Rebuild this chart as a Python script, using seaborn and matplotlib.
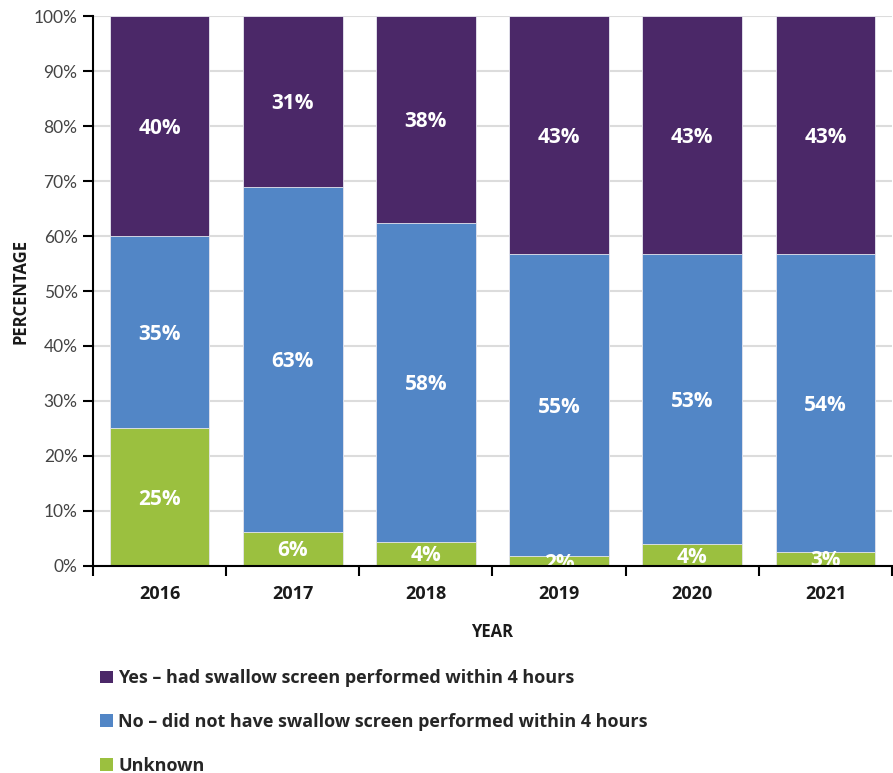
import numpy as np
import pandas as pd
import matplotlib
matplotlib.use('Agg')
import matplotlib.pyplot as plt
import seaborn as sns
from matplotlib.patches import Patch
from matplotlib.ticker import FuncFormatter, FixedLocator

# Datos (porcentajes)
years = ['2016', '2017', '2018', '2019', '2020', '2021']
unknown = [25.0, 6.2, 4.4, 1.8, 4.0, 2.6]
no_screen = [35.0, 62.7, 58.0, 54.9, 52.7, 54.1]
yes_screen = [40.0, 31.1, 37.6, 43.3, 43.3, 43.3]
unknown_lbl = [25, 6, 4, 2, 4, 3]
no_lbl = [35, 63, 58, 55, 53, 54]
yes_lbl = [40, 31, 38, 43, 43, 43]

series_names = ['Yes \u2013 had swallow screen performed within 4 hours',
                'No \u2013 did not have swallow screen performed within 4 hours',
                'Unknown']
colors = ['#4b2868', '#5286c6', '#9bc03f']

sns.set_theme(style='white')
plt.rcParams['font.family'] = ['Lato', 'DejaVu Sans']
bold_font = ['Open Sans', 'DejaVu Sans']

df = pd.DataFrame({'year': years, 'unknown': unknown, 'no': no_screen, 'yes': yes_screen})
df['c1'] = df['unknown']
df['c2'] = df['unknown'] + df['no']
df['c3'] = df['c2'] + df['yes']

fig = plt.figure(figsize=(8.93, 7.73), dpi=100)
ax = fig.add_axes([0.104, 0.268, 0.895, 0.711])

# barras apiladas: se dibuja el total y se superponen los acumulados
for col, color in zip(['c3', 'c2', 'c1'], colors):
    sns.barplot(data=df, x='year', y=col, color=color, width=0.75,
                saturation=1, ax=ax, zorder=3, edgecolor='#e8e8f0', linewidth=0.6)

# etiquetas centradas en cada segmento
for i in range(len(years)):
    segs = [(0, df['c1'][i], unknown_lbl[i]),
            (df['c1'][i], df['c2'][i], no_lbl[i]),
            (df['c2'][i], df['c3'][i], yes_lbl[i])]
    for lo, hi, lbl in segs:
        ax.text(i, (lo + hi) / 2 - 0.4, f'{lbl}%', ha='center', va='center',
                color='white', fontsize=15, fontweight='bold', family=bold_font, zorder=5)

ax.set_ylim(0, 100)
ax.set_xlim(-0.5, len(years) - 0.5)
ax.yaxis.set_major_locator(FixedLocator(np.arange(0, 101, 10)))
ax.yaxis.set_major_formatter(FuncFormatter(lambda v, p: f'{v:.0f}%'))
ax.yaxis.grid(True, color='#dcdcdc', linewidth=1.5, zorder=0)
ax.set_axisbelow(True)

# ticks del eje x en los limites de categoria
ax.set_xticks(np.arange(-0.5, len(years), 1), minor=False)
ax.set_xticklabels([])
ax.set_xticks(np.arange(len(years)), minor=True)
ax.set_xticklabels(years, minor=True, fontsize=13, fontweight='bold',
                   color='#1a1a1a', family=bold_font)
ax.tick_params(axis='x', which='major', length=7, width=1.5, color='black', direction='out', bottom=True)
ax.tick_params(axis='x', which='minor', length=0, pad=14)
ax.tick_params(axis='y', length=7, width=1.5, color='black', direction='out', left=True,
               labelsize=12.5, labelcolor='#444444', pad=4)

for side in ['top', 'right']:
    ax.spines[side].set_visible(False)
for side in ['left', 'bottom']:
    ax.spines[side].set_color('black')
    ax.spines[side].set_linewidth(1.5)
ax.spines['bottom'].set_zorder(6)

ax.set_xlabel('YEAR', fontsize=12, fontweight='bold', color='#1a1a1a', labelpad=14, family=bold_font)
ax.set_ylabel('PERCENTAGE', fontsize=12, fontweight='bold', color='#1a1a1a', labelpad=3, family=bold_font)

handles = [Patch(facecolor=c, edgecolor='none') for c in colors]
fig.legend(handles, series_names, loc='upper left', bbox_to_anchor=(0.112, 0.134),
           frameon=False, prop={'weight': 'bold', 'size': 13, 'family': bold_font},
           handlelength=0.7, handleheight=0.7, handletextpad=0.3,
           labelspacing=1.42, borderaxespad=0, borderpad=0)

fig.savefig('out.png', dpi=100)
